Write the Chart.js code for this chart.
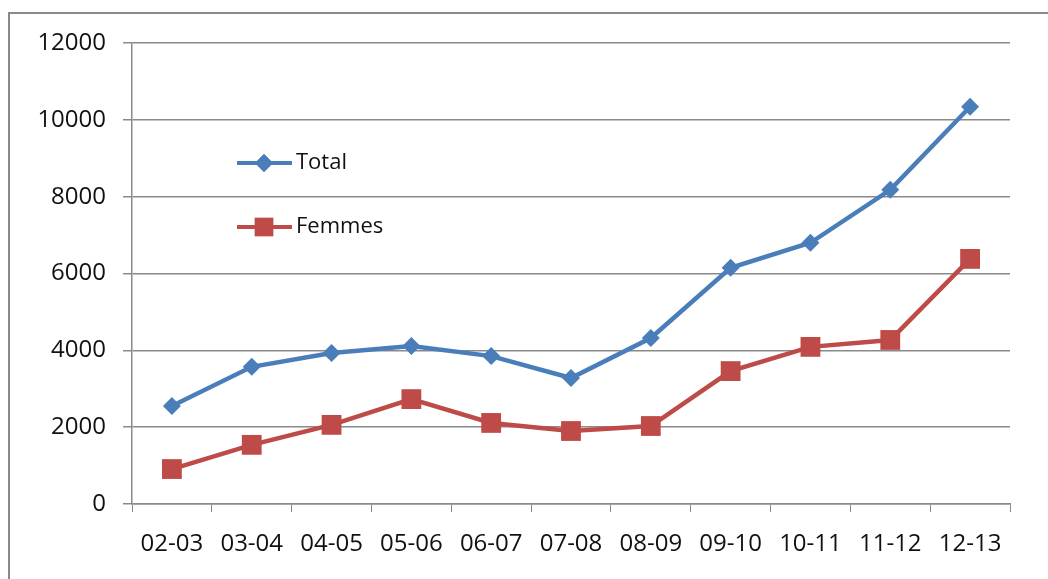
<!DOCTYPE html>
<html>
<head>
<meta charset="utf-8">
<script src="https://cdn.jsdelivr.net/npm/chart.js@4"></script>
<style>
  body { margin: 0; background: #fff; overflow: hidden; }
  #frame { position: absolute; left: 8px; top: 12px; width: 1100px; height: 700px; border: 2px solid #8a8a8a; }
  #wrap { position: absolute; left: 0; top: 0; width: 1048px; height: 579px; }
</style>
</head>
<body>
<div id="frame"></div>
<div id="wrap"><canvas id="lineChart" width="1048" height="579"></canvas></div>
<script>
// Data
const years = ["02-03", "03-04", "04-05", "05-06", "06-07", "07-08", "08-09", "09-10", "10-11", "11-12", "12-13"];
const total = [2550, 3570, 3930, 4110, 3850, 3280, 4320, 6150, 6800, 8180, 10340];
const femmes = [910, 1540, 2060, 2730, 2110, 1900, 2030, 3460, 4090, 4270, 6380];
const yTicks = [0, 2000, 4000, 6000, 8000, 10000, 12000];

const BLUE = "#4a7ebb";
const RED = "#be4b48";
const FONT = "'Open Sans', Lato, sans-serif";

// Legend drawn inside the plot, like the original
const innerLegend = {
    id: "innerLegend",
    afterDraw(chart) {
        const ctx = chart.ctx;
        const rows = [
            { ds: chart.data.datasets[0], y: 163 },
            { ds: chart.data.datasets[1], y: 227 },
        ];
        ctx.save();
        rows.forEach(r => {
            ctx.strokeStyle = r.ds.borderColor;
            ctx.lineWidth = 4;
            ctx.beginPath();
            ctx.moveTo(237, r.y);
            ctx.lineTo(292, r.y);
            ctx.stroke();
            ctx.fillStyle = r.ds.borderColor;
            Chart.helpers.drawPoint(ctx, {
                pointStyle: r.ds.pointStyle,
                radius: r.ds.pointStyle === "rect" ? 13 : 9,
                borderWidth: 0,
            }, 264, r.y);
            ctx.fill();
            ctx.fillStyle = "#111";
            ctx.font = "22px " + FONT;
            ctx.textBaseline = "middle";
            ctx.fillText(r.ds.label, 296, r.y);
        });
        ctx.restore();
    }
};

const config = {
    type: "line",
    data: {
        labels: years,
        datasets: [
            {
                label: "Total",
                data: total,
                borderColor: BLUE,
                backgroundColor: BLUE,
                borderWidth: 4.5,
                pointStyle: "rectRot",
                pointRadius: 9,
                pointBorderWidth: 0,
                tension: 0,
            },
            {
                label: "Femmes",
                data: femmes,
                borderColor: RED,
                backgroundColor: RED,
                borderWidth: 4.5,
                pointStyle: "rect",
                pointRadius: 14,
                pointBorderWidth: 0,
                tension: 0,
            },
        ],
    },
    options: {
        responsive: false,
        animation: false,
        layout: { padding: { top: 43, right: 38, left: 0, bottom: 0 } },
        plugins: {
            legend: { display: false },
            tooltip: { enabled: false },
        },
        scales: {
            x: {
                offset: true,
                grid: {
                    offset: true,
                    drawOnChartArea: false,
                    drawTicks: true,
                    tickLength: 8,
                    tickColor: "#8a8a8a",
                },
                border: { color: "#8a8a8a", width: 1.5 },
                ticks: {
                    color: "#111",
                    font: { family: FONT, size: 24 },
                    padding: 18,
                    maxRotation: 0,
                },
                afterFit(scale) { scale.height = 579 - 504; },
            },
            y: {
                min: 0,
                max: 12000,
                afterBuildTicks(scale) { scale.ticks = yTicks.map(v => ({ value: v })); },
                grid: {
                    color: "#8a8a8a",
                    lineWidth: 1.5,
                    tickLength: 9,
                },
                border: { color: "#8a8a8a", width: 1.5 },
                ticks: {
                    color: "#111",
                    font: { family: FONT, size: 24 },
                    padding: 17,
                    callback: v => String(v),
                },
                afterFit(scale) { scale.width = 132; },
            },
        },
    },
    plugins: [innerLegend],
};

new Chart(document.getElementById("lineChart").getContext("2d"), config);
</script>
</body>
</html>
